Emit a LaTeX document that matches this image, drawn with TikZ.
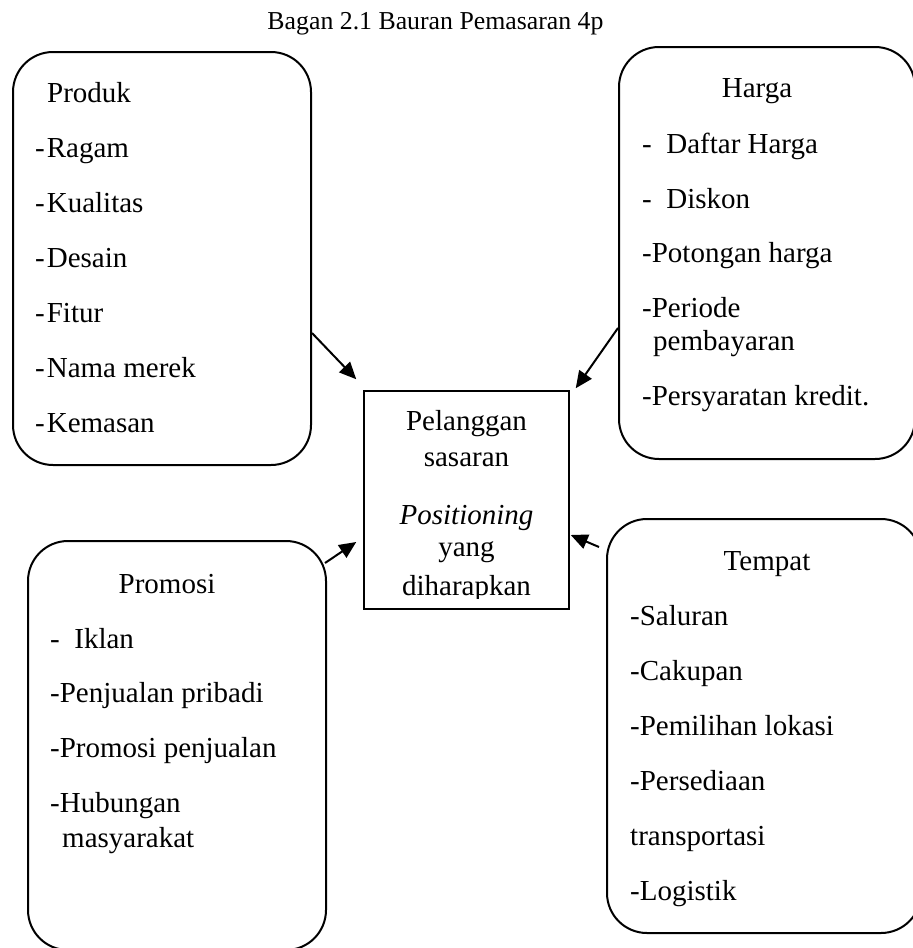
\documentclass[tikz,border=0pt]{standalone}
\usepackage{fontspec}
\setmainfont{Liberation Serif}
\usetikzlibrary{arrows.meta}
\begin{document}
\begin{tikzpicture}[x=1pt,y=-1pt,
  card/.style={draw, line width=2pt, rounded corners=40pt, inner sep=0pt},
  hub/.style={draw, line width=1.5pt, inner sep=0pt},
  item/.style={inner sep=0pt, anchor=base west, font=\fontsize{29}{35}\selectfont},
  head/.style={inner sep=0pt, anchor=base, font=\fontsize{29}{35}\selectfont},
  link/.style={line width=2pt, -{Triangle[length=17pt,width=15pt]}},
]
\fill[white] (0,0) rectangle (913,948);
\useasboundingbox (0,0) rectangle (913,948);
\clip (0,0) rectangle (913,948);

% caption
\node[inner sep=0pt, anchor=base, font=\fontsize{25.8}{31}\selectfont] (title) at (435.5,29) {Bagan 2.1 Bauran Pemasaran 4p};

% the four mix cards and the central box
\node[card, minimum width=298pt, minimum height=413pt] (produk) at (162,258.5) {};
\node[card, minimum width=296pt, minimum height=412pt] (harga) at (767,253) {};
\node[card, minimum width=298pt, minimum height=409pt] (promosi) at (177,745.5) {};
\node[card, minimum width=314pt, minimum height=414pt] (tempat) at (764,726) {};
\node[hub, minimum width=205pt, minimum height=218pt] (mid) at (466.5,500) {};

% Produk
\node[item] (p0) at (47,102) {Produk};
\node[item] (p1) at (35,157) {-\kern2pt Ragam};
\node[item] (p2) at (35,212) {-\kern2pt Kualitas};
\node[item] (p3) at (35,267) {-\kern2pt Desain};
\node[item] (p4) at (35,322) {-\kern2pt Fitur};
\node[item] (p5) at (35,377) {-\kern2pt Nama merek};
\node[item] (p6) at (35,432) {-\kern2pt Kemasan};

% Harga
\node[head] (h0) at (757,97) {Harga};
\node[item] (h1) at (642,153) {-\ \ Daftar Harga};
\node[item] (h2) at (642,208) {-\ \ Diskon};
\node[item] (h3) at (642,262) {-Potongan harga};
\node[item] (h4) at (642,317) {-Periode};
\node[item] (h5) at (653,350) {pembayaran};
\node[item] (h6) at (642,405) {-Persyaratan kredit.};

% Promosi
\node[head] (r0) at (167,593) {Promosi};
\node[item] (r1) at (50,648) {-\ \ Iklan};
\node[item] (r2) at (50,702) {-Penjualan pribadi};
\node[item] (r3) at (50,757) {-Promosi penjualan};
\node[item] (r4) at (50,812) {-Hubungan};
\node[item] (r5) at (62,847) {masyarakat};

% Tempat
\node[head] (t0) at (767,570) {Tempat};
\node[item] (t1) at (630,625) {-Saluran};
\node[item] (t2) at (630,680) {-Cakupan};
\node[item] (t3) at (630,735) {-Pemilihan lokasi};
\node[item] (t4) at (630,790) {-Persediaan};
\node[item] (t5) at (630,845) {transportasi};
\node[item] (t6) at (630,900) {-Logistik};

% text of the central box, cut off at its lower text margin
\begin{scope}
\clip (364,391) rectangle (569,598);
\node[head] (m1) at (466.5,430) {Pelanggan};
\node[head] (m2) at (466.5,466) {sasaran};
\node[head] (m3) at (466.5,524) {\itshape Positioning};
\node[head] (m4) at (466.5,556) {yang};
\node[head] (m5) at (466.5,595) {diharapkan};
\end{scope}

% connectors into the central box
\draw[link] ([yshift=-74.5pt]produk.east) -- ([xshift=-7pt,yshift=11pt]mid.north west);
\draw[link] ([yshift=-75pt]harga.west) -- ([xshift=6pt,yshift=2pt]mid.north east);
\draw[link] ([xshift=-2pt,yshift=-23pt]promosi.north east) -- ([xshift=-7pt,yshift=-42pt]mid.west);
\draw[link] ([xshift=-7pt,yshift=-29pt]tempat.north west) -- ([xshift=1pt,yshift=-35pt]mid.east);
\end{tikzpicture}
\end{document}
